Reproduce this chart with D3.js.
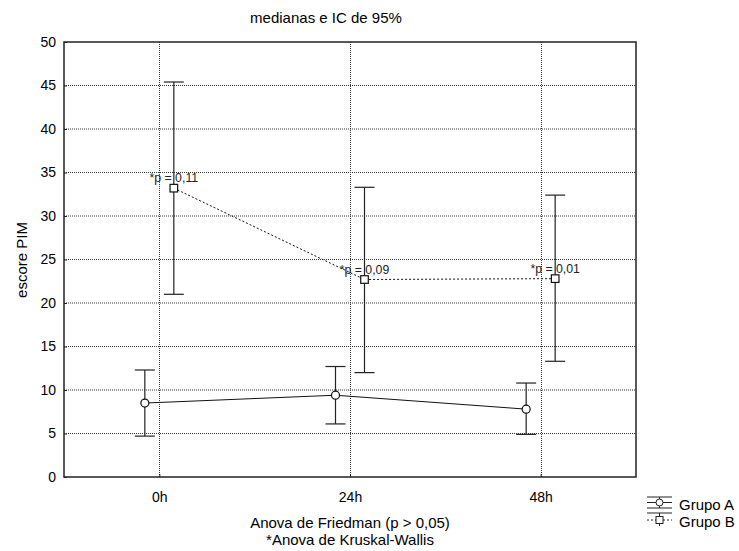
<!DOCTYPE html>
<html><head><meta charset="utf-8">
<script src="https://cdn.jsdelivr.net/npm/d3@7"></script>
<style>body{margin:0;background:#fff}svg{font-family:"Liberation Sans",Arial,sans-serif}</style>
</head><body><svg id="c" width="739" height="551"></svg>
<script>
const categories = ["0h", "24h", "48h"];
const yTicks = [0, 5, 10, 15, 20, 25, 30, 35, 40, 45, 50];
const grupoA_med = [8.5, 9.4, 7.8];
const grupoA_lo = [4.7, 6.1, 4.9];
const grupoA_hi = [12.3, 12.7, 10.8];
const grupoB_med = [33.2, 22.7, 22.8];
const grupoB_lo = [21.0, 12.0, 13.3];
const grupoB_hi = [45.4, 33.3, 32.4];
const pLabels = ["*p = 0,11", "*p = 0,09", "*p = 0,01"];
const seriesNames = ["Grupo A", "Grupo B"];

const svg = d3.select("#c");
const L = 64, R = 636, T = 42, B = 477;
const x = d3.scaleLinear().domain([-0.5, 2.5]).range([L, R]);
const y = d3.scaleLinear().domain([0, 50]).range([B, T]);
const offA = -14.5, offB = 14.5;

// title
svg.append("text").attr("x", 326).attr("y", 23).attr("text-anchor", "middle")
  .attr("font-size", 15).text("medianas e IC de 95%");

// grid
const g = svg.append("g");
g.selectAll(".hg").data(yTicks.filter(t => t > 0 && t < 50)).join("line")
  .attr("x1", L).attr("x2", R).attr("y1", d => y(d)).attr("y2", d => y(d))
  .attr("stroke", "#333").attr("stroke-width", 1).attr("stroke-dasharray", "1,1");
g.selectAll(".vg").data(categories).join("line")
  .attr("x1", (d, i) => Math.round(x(i)) + 0.5).attr("x2", (d, i) => Math.round(x(i)) + 0.5)
  .attr("y1", T).attr("y2", B)
  .attr("stroke", "#333").attr("stroke-width", 1).attr("stroke-dasharray", "1,1");

// frame
svg.append("rect").attr("x", L).attr("y", T).attr("width", R - L).attr("height", B - T)
  .attr("fill", "none").attr("stroke", "#222").attr("stroke-width", 1.5);

// y axis
const ya = d3.axisLeft(y).tickValues(yTicks).tickSize(-3).tickPadding(8);
const yg = svg.append("g").attr("transform", `translate(${L},0)`).call(ya);
yg.select(".domain").remove();
yg.selectAll("text").attr("font-size", 14).attr("font-family", "Liberation Sans, Arial");
yg.selectAll("line").attr("stroke", "#222");

// x axis
const xa = d3.axisBottom(x).tickValues([0, 1, 2]).tickFormat(i => categories[i]).tickSize(-3).tickPadding(15);
const xg = svg.append("g").attr("transform", `translate(0,${B})`).call(xa);
xg.select(".domain").remove();
xg.selectAll("text").attr("font-size", 14).attr("font-family", "Liberation Sans, Arial");
xg.selectAll("line").attr("stroke", "#222");

// axis titles
svg.append("text").attr("transform", "translate(27,260) rotate(-90)").attr("text-anchor", "middle")
  .attr("font-size", 15).text("escore PIM");
svg.append("text").attr("x", 350).attr("y", 528).attr("text-anchor", "middle")
  .attr("font-size", 15).text("Anova de Friedman (p > 0,05)");
svg.append("text").attr("x", 350).attr("y", 545).attr("text-anchor", "middle")
  .attr("font-size", 15).text("*Anova de Kruskal-Wallis");

function drawSeries(med, lo, hi, off, dashed, shape) {
  const idx = d3.range(med.length);
  const line = d3.line().x(i => x(i) + off).y(i => y(med[i]));
  svg.append("path").datum(idx).attr("d", line).attr("fill", "none")
    .attr("stroke", "#111").attr("stroke-width", 1)
    .attr("stroke-dasharray", dashed ? "2,2" : null);
  const eg = svg.append("g").attr("stroke", "#222").attr("stroke-width", 1.2);
  idx.forEach(i => {
    const cx = x(i) + off;
    eg.append("line").attr("x1", cx).attr("x2", cx).attr("y1", y(lo[i])).attr("y2", y(hi[i]));
    eg.append("line").attr("x1", cx - 10).attr("x2", cx + 10).attr("y1", y(lo[i])).attr("y2", y(lo[i]));
    eg.append("line").attr("x1", cx - 10).attr("x2", cx + 10).attr("y1", y(hi[i])).attr("y2", y(hi[i]));
  });
  idx.forEach(i => {
    const cx = x(i) + off, cy = y(med[i]);
    if (shape === "circle") {
      svg.append("circle").attr("cx", cx).attr("cy", cy).attr("r", 4)
        .attr("fill", "#fff").attr("stroke", "#111").attr("stroke-width", 1.2);
    } else {
      svg.append("rect").attr("x", cx - 3.8).attr("y", cy - 3.8).attr("width", 7.6).attr("height", 7.6)
        .attr("fill", "#fff").attr("stroke", "#111").attr("stroke-width", 1.2);
    }
  });
}
drawSeries(grupoA_med, grupoA_lo, grupoA_hi, offA, false, "circle");
drawSeries(grupoB_med, grupoB_lo, grupoB_hi, offB, true, "square");

// p labels
svg.selectAll(".pl").data(pLabels).join("text")
  .attr("x", (d, i) => x(i) + offB).attr("y", (d, i) => y(grupoB_med[i]) - 6)
  .attr("text-anchor", "middle").attr("font-size", 12.3).attr("fill", "#222").text(d => d);

// legend
const lx = 647, lw = 25;
const leg = svg.append("g").attr("stroke", "#222").attr("stroke-width", 1);
[497, 508, 513].forEach(yy => leg.append("line").attr("x1", lx).attr("x2", lx + lw).attr("y1", yy).attr("y2", yy));
leg.append("line").attr("x1", lx).attr("x2", lx + lw).attr("y1", 502.5).attr("y2", 502.5);
leg.append("line").attr("x1", lx + lw / 2).attr("x2", lx + lw / 2).attr("y1", 497).attr("y2", 508);
leg.append("circle").attr("cx", lx + lw / 2).attr("cy", 502.5).attr("r", 3.5).attr("fill", "#fff");
leg.append("line").attr("x1", lx).attr("x2", lx + lw).attr("y1", 520).attr("y2", 520).attr("stroke-dasharray", "2,2");
leg.append("line").attr("x1", lx + lw / 2).attr("x2", lx + lw / 2).attr("y1", 513).attr("y2", 526);
leg.append("rect").attr("x", lx + lw / 2 - 3.5).attr("y", 516.5).attr("width", 7).attr("height", 7).attr("fill", "#fff");
svg.selectAll(".lt").data(seriesNames).join("text")
  .attr("x", 679).attr("y", (d, i) => 510 + i * 17).attr("font-size", 15).text(d => d);
</script></body></html>
